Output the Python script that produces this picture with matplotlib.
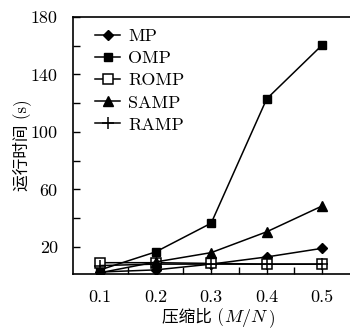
import numpy as np
import matplotlib.pyplot as plt
from matplotlib.offsetbox import TextArea, HPacker, AnnotationBbox

plt.rcParams['font.family'] = ['cmr10', 'Noto Sans CJK SC']
plt.rcParams['mathtext.fontset'] = 'cm'
plt.rcParams['axes.unicode_minus'] = False

# 压缩比
ratio = [0.1, 0.2, 0.3, 0.4, 0.5]
# 运行时间 (s)
mp = [2.5, 4, 8, 13, 19]
omp = [4, 16.5, 36.5, 123, 160.5]
romp = [9, 9, 8.5, 8, 8]
samp = [2, 9.5, 16, 30.5, 48.5]
ramp = [7, 8, 8, 8, 8]

fig = plt.figure(figsize=(3.5, 3.32), dpi=100)
ax = fig.add_axes([0.209, 0.175, 0.791, 0.774])

kw = dict(color='black', lw=1.1)
ax.plot(ratio, mp, marker='D', ms=5.5, label='MP', **kw)
ax.plot(ratio, omp, marker='s', ms=6, label='OMP', **kw)
ax.plot(ratio, romp, marker='s', ms=7.5, mfc='white', mew=1.1, label='ROMP', **kw)
ax.plot(ratio, samp, marker='^', ms=7, label='SAMP', **kw)
ax.plot(ratio, ramp, marker='+', ms=9, mew=1.1, label='RAMP', **kw)

ax.set_xlim(0.0514, 0.55)
ax.set_ylim(1.2, 180)
ax.set_xticks(ratio)
ax.set_xticks(np.arange(0.15, 0.5, 0.1), minor=True)
ax.set_yticks([20, 60, 100, 140, 180])
ax.set_yticks([40, 80, 120, 160], minor=True)
ax.tick_params(which='both', direction='in', labelsize=13, length=5, width=1)
ax.tick_params(axis='x', pad=11)
ax.tick_params(axis='y', pad=11)
ax.spines['right'].set_visible(False)
for s in ['left', 'top', 'bottom']:
    ax.spines[s].set_linewidth(1.2)

ax.set_ylabel('运行时间 (s)', fontsize=12, labelpad=0)

# x label: 中文 + 斜体 M/N
parts = [TextArea('压缩比 (', textprops=dict(fontsize=12)),
         TextArea('$M/N$', textprops=dict(fontsize=13)),
         TextArea(')', textprops=dict(fontsize=12))]
box = HPacker(children=parts, pad=0, sep=0, align='baseline')
ab = AnnotationBbox(box, (218.7 / 350, 1 - 318 / 332), xycoords='figure fraction',
                    frameon=False, box_alignment=(0.5, 0.5))
fig.add_artist(ab)

ax.legend(loc='upper left', bbox_to_anchor=(0.079, 0.955), frameon=False,
          fontsize=13, handlelength=1.4, labelspacing=0.36, borderpad=0,
          borderaxespad=0, handletextpad=0.45)

plt.savefig('out.png', dpi=100)
